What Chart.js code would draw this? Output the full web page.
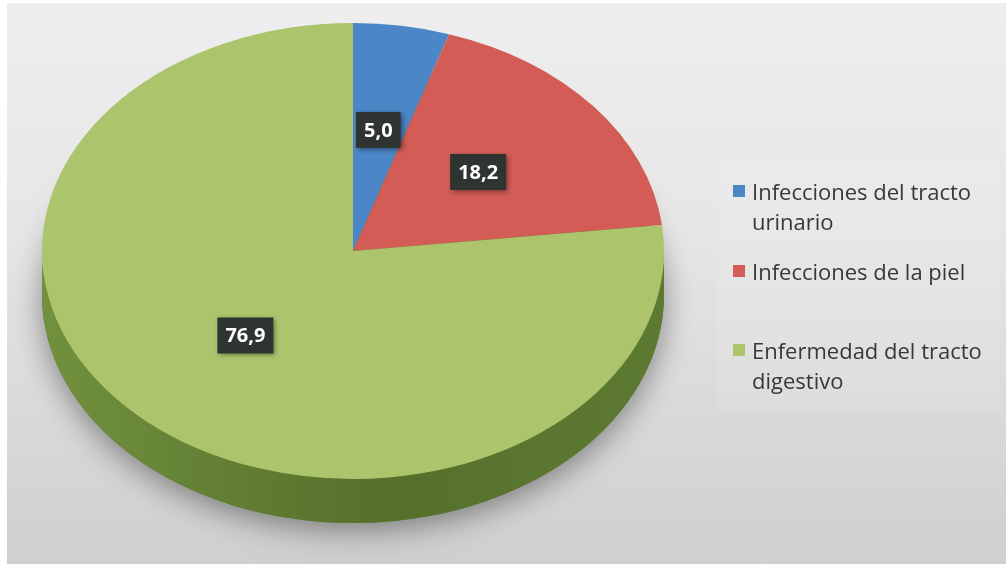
<!DOCTYPE html>
<html>
<head>
<meta charset="utf-8">
<script src="https://cdn.jsdelivr.net/npm/chart.js@4.4.1/dist/chart.umd.min.js"></script>
<style>
  body { margin: 0; background: #fff; width: 1006px; height: 564px; overflow: hidden; }
  #bg {
    position: absolute; left: 7px; top: 3px; width: 999px; height: 561px;
    background: linear-gradient(#eeeeee 0%, #e6e6e6 40%, #cfcfcf 100%);
  }
  #legendBox {
    position: absolute; left: 718px; top: 158px; width: 282px; height: 252px;
    background: rgba(255, 255, 255, 0.1);
  }
  canvas { position: absolute; left: 0; top: 0; }
  .item { position: absolute; left: 733px; font-family: "Open Sans", sans-serif; font-size: 22px;
          line-height: 30px; color: #383838; }
  .item .sw { position: absolute; left: 0; top: 9px; width: 12px; height: 12px; }
  .item .tx { position: absolute; left: 19px; top: 0; white-space: nowrap; }
</style>
</head>
<body>
<div id="bg"></div>
<div id="legendBox"></div>
<canvas id="pie" width="1006" height="564"></canvas>
<div id="legend"></div>
<script>
// data
const categories = [
  ["Infecciones del tracto", "urinario"],
  ["Infecciones de la piel"],
  ["Enfermedad del tracto", "digestivo"]
];
const values = [5.0, 18.2, 76.9];
const topColors = ["#4b86c6", "#d35c56", "#acc46c"];
const sideColors = [
  ["#3a6a9e", "#2f5886", "#33608f"],
  ["#a8443f", "#8e3733", "#983b37"],
  ["#71913e", "#55702b", "#5d7a32"]
];
const legendTops = [176, 256, 335];

// pie geometry
const cx = 353, cy = 251, radius = 311, squash = 228 / 311, depth = 44;

const pie3d = {
  id: "pie3d",
  beforeDatasetsDraw(chart) {
    const ctx = chart.ctx;
    const arcs = chart.getDatasetMeta(0).data;
    const x = arcs[0].x, y = arcs[0].y, r = arcs[0].outerRadius, ry = r * squash;

    // soft drop shadow under the whole disc
    ctx.save();
    ctx.shadowColor = "rgba(0,0,0,0.4)";
    ctx.shadowBlur = 30;
    ctx.shadowOffsetY = 8;
    ctx.fillStyle = "#5a752f";
    ctx.beginPath();
    ctx.ellipse(x, y + depth, r, ry, 0, 0, Math.PI * 2);
    ctx.fill();
    ctx.restore();

    // front wall of each slice
    arcs.forEach((arc, i) => {
      const a0 = Math.max(arc.startAngle, 0);
      const a1 = Math.min(arc.endAngle, Math.PI);
      if (a1 <= a0) return;
      const g = ctx.createLinearGradient(x - r, 0, x + r, 0);
      g.addColorStop(0, sideColors[i][0]);
      g.addColorStop(0.55, sideColors[i][1]);
      g.addColorStop(1, sideColors[i][2]);
      ctx.save();
      ctx.fillStyle = g;
      ctx.beginPath();
      ctx.ellipse(x, y + depth, r, ry, 0, a0, a1);
      ctx.ellipse(x, y, r, ry, 0, a1, a0, true);
      ctx.closePath();
      ctx.fill();
      ctx.restore();
    });

    // flatten the top face into an ellipse
    ctx.save();
    ctx.translate(x, y);
    ctx.scale(1, squash);
    ctx.translate(-x, -y);
  },
  afterDatasetsDraw(chart) {
    const ctx = chart.ctx;
    ctx.restore();

    // value boxes
    const arcs = chart.getDatasetMeta(0).data;
    ctx.save();
    ctx.font = "bold 20px 'Open Sans', sans-serif";
    ctx.textAlign = "center";
    ctx.textBaseline = "middle";
    arcs.forEach((arc, i) => {
      const mid = (arc.startAngle + arc.endAngle) / 2;
      const lr = arc.outerRadius * 0.52;
      const lx = arc.x + Math.cos(mid) * lr;
      const ly = arc.y + Math.sin(mid) * lr * squash - 4;
      const txt = values[i].toFixed(1).replace(".", ",");
      const w = ctx.measureText(txt).width + 16, h = 36;
      ctx.save();
      ctx.shadowColor = "rgba(0,0,0,0.45)";
      ctx.shadowBlur = 5;
      ctx.shadowOffsetX = 2;
      ctx.shadowOffsetY = 2;
      ctx.fillStyle = "#2f3431";
      ctx.fillRect(lx - w / 2, ly - h / 2, w, h);
      ctx.restore();
      ctx.fillStyle = "#ffffff";
      ctx.fillText(txt, lx, ly + 1);
    });
    ctx.restore();
  }
};

new Chart(document.getElementById("pie"), {
  type: "pie",
  data: {
    labels: categories.map(c => c.join(" ")),
    datasets: [{
      data: values,
      backgroundColor: topColors,
      borderWidth: 0,
      radius: radius,
      clip: false
    }]
  },
  options: {
    responsive: false,
    animation: false,
    events: [],
    layout: { padding: { left: 0, top: 0, right: 1006 - 2 * cx, bottom: 564 - 2 * cy } },
    plugins: { legend: { display: false }, tooltip: { enabled: false } }
  },
  plugins: [pie3d]
});

// legend
const legend = document.getElementById("legend");
categories.forEach((lines, i) => {
  const item = document.createElement("div");
  item.className = "item";
  item.style.top = legendTops[i] + "px";
  item.innerHTML = '<div class="sw" style="background:' + topColors[i] + '"></div>' +
    '<div class="tx">' + lines.join("<br>") + "</div>";
  legend.appendChild(item);
});
</script>
</body>
</html>
